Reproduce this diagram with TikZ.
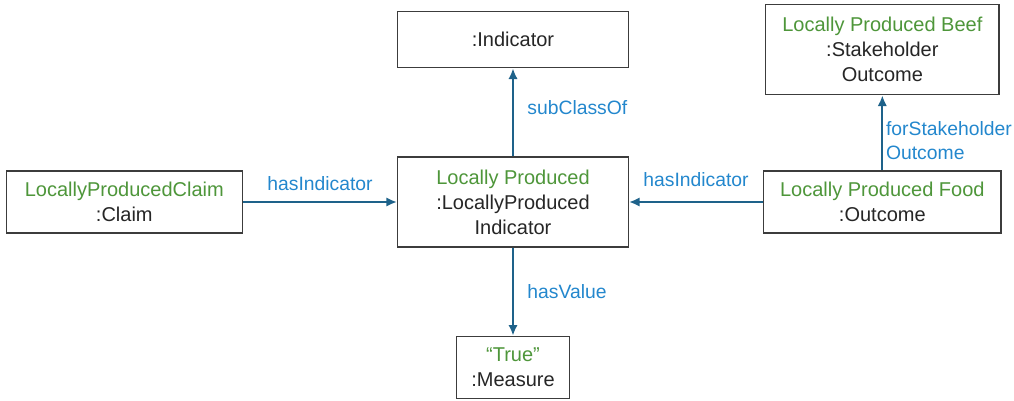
\documentclass[tikz,border=0pt]{standalone}
\usepackage{fontspec}
\setmainfont{Liberation Sans}
\usetikzlibrary{positioning,arrows.meta}
\definecolor{idgreen}{RGB}{78,150,58}
\definecolor{relblue}{RGB}{35,135,205}
\definecolor{edgeteal}{RGB}{30,98,138}
\definecolor{boxgray}{RGB}{60,60,60}
\newcommand{\inst}[1]{\textcolor{idgreen}{#1}}

\begin{document}
\begin{tikzpicture}[x=0.75pt,y=-0.75pt,
    font=\fontsize{15}{18.75}\selectfont,
    entity/.style={draw=boxgray, line width=1pt, align=center, fill=white,
                   text=black!85, inner sep=2pt, minimum width=173pt, minimum height=46.5pt},
    rel/.style={draw=edgeteal, line width=1.6pt, -{Latex[length=8pt,width=7pt]}},
    lbl/.style={text=relblue, inner sep=2pt, align=left, font=\fontsize{14.5}{18}\selectfont}]
   \useasboundingbox (0,0) rectangle (1014,400);

   \node[entity, minimum height=67.5pt]            (LPI)   at (513,202) {\inst{Locally Produced}\\:LocallyProduced\\Indicator} ; %
   \node[entity, minimum height=42pt, above=66pt of LPI]   (IND)   {:Indicator} ; %
   \node[entity, minimum width=85pt, below=66pt of LPI]    (MEAS)  {\inst{``True''}\\:Measure} ; %
   \node[entity, minimum width=177pt, left=115.5pt of LPI] (CLAIM) {\inst{LocallyProducedClaim}\\:Claim} ; %
   \node[entity, minimum width=178pt, right=100.5pt of LPI](FOOD)  {\inst{Locally Produced Food}\\:Outcome} ; %
   \node[entity, minimum width=175pt, minimum height=67.5pt, above=56.25pt of FOOD] (BEEF) {\inst{Locally Produced Beef}\\:Stakeholder\\Outcome} ; %

   \draw[rel] (CLAIM) -- node[lbl, above=6pt] {hasIndicator} (LPI) ;
   \draw[rel] (FOOD)  -- node[lbl, above=9pt] {hasIndicator} (LPI) ;
   \draw[rel] (LPI)   -- node[lbl, right=8pt, pos=0.55] {subClassOf} (IND) ;
   \draw[rel] (LPI)   -- node[lbl, right=8pt] {hasValue} (MEAS) ;
   \draw[rel] (FOOD)  -- node[lbl, right=0pt, pos=0.4] {forStakeholder\\Outcome} (BEEF) ;

\end{tikzpicture}
\end{document}
